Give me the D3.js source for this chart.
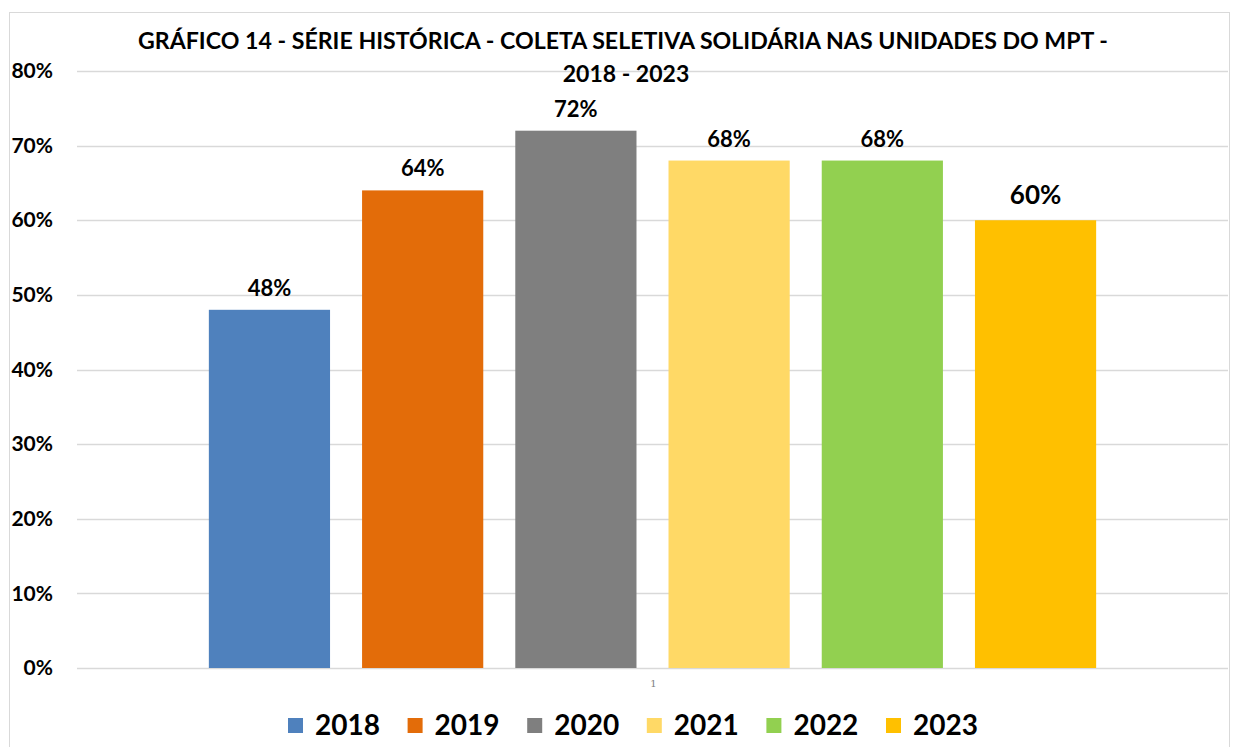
<!DOCTYPE html>
<html>
<head>
<meta charset="utf-8">
<script src="https://cdn.jsdelivr.net/npm/d3@7"></script>
<style>
  body { margin: 0; background: #fff; }
  svg text { font-family: Lato, "Open Sans", sans-serif; font-weight: bold; fill: #000; }
</style>
</head>
<body>
<script>
var categories = ['1'];
var years = ['2018', '2019', '2020', '2021', '2022', '2023'];
var values = [48, 64, 72, 68, 68, 60];
var colors = ['#4f81bd', '#e36c09', '#7f7f7f', '#ffd966', '#92d050', '#ffc000'];
var yTicks = [0, 10, 20, 30, 40, 50, 60, 70, 80];
var titleLines = [
  'GRÁFICO 14 - SÉRIE HISTÓRICA - COLETA SELETIVA SOLIDÁRIA NAS UNIDADES DO MPT -',
  '2018 - 2023'
];

var width = 1236, height = 747;
var plot = { left: 77, right: 1228, top: 71, bottom: 668 };

var svg = d3.select('body').append('svg')
    .attr('width', width)
    .attr('height', height);

// chart frame
svg.append('rect')
    .attr('x', 9.5).attr('y', 12.5)
    .attr('width', 1220).attr('height', 760)
    .attr('fill', 'none')
    .attr('stroke', '#d9d9d9');

var y = d3.scaleLinear().domain([0, 80]).range([plot.bottom, plot.top]);

var x0 = d3.scaleBand()
    .domain(categories)
    .range([plot.left, plot.right])
    .paddingInner(0)
    .paddingOuter(0.126);

var x1 = d3.scaleBand()
    .domain(years)
    .range([0, x0.bandwidth()])
    .paddingInner(0.209)
    .paddingOuter(0.1045);

// gridlines
svg.append('g')
    .selectAll('line')
    .data(yTicks)
    .enter()
    .append('line')
    .attr('x1', plot.left)
    .attr('x2', plot.right)
    .attr('y1', function(d) { return Math.round(y(d)) + 0.5; })
    .attr('y2', function(d) { return Math.round(y(d)) + 0.5; })
    .attr('stroke', '#d9d9d9')
    .attr('stroke-width', 1.5);

// y axis labels
var yAxis = d3.axisLeft(y)
    .tickValues(yTicks)
    .tickSize(0)
    .tickPadding(0)
    .tickFormat(function(d) { return d + '%'; });

var gy = svg.append('g')
    .attr('transform', 'translate(53,0)')
    .call(yAxis);
gy.select('.domain').remove();
gy.selectAll('text')
    .style('font-family', 'Lato, "Open Sans", sans-serif')
    .style('font-weight', 'bold')
    .style('font-size', '21px')
    .style('fill', '#000');

// category axis label
var gx = svg.append('g')
    .attr('transform', 'translate(0,' + plot.bottom + ')')
    .call(d3.axisBottom(x0).tickSize(0).tickPadding(12));
gx.select('.domain').remove();
gx.selectAll('text')
    .style('font-family', '"DejaVu Serif", serif')
    .style('font-weight', 'normal')
    .style('font-size', '10px')
    .style('fill', '#7f7f7f')
    .attr('dx', 1);

var data = years.map(function(yr, i) {
  return { cat: '1', year: yr, value: values[i], color: colors[i] };
});

// bars
svg.append('g')
    .selectAll('rect')
    .data(data)
    .enter()
    .append('rect')
    .attr('x', function(d) { return x0(d.cat) + x1(d.year); })
    .attr('y', function(d) { return y(d.value); })
    .attr('width', x1.bandwidth())
    .attr('height', function(d) { return y(0) - y(d.value); })
    .attr('fill', function(d) { return d.color; });

// value labels
svg.append('g')
    .selectAll('text')
    .data(data)
    .enter()
    .append('text')
    .attr('x', function(d) { return x0(d.cat) + x1(d.year) + x1.bandwidth() / 2; })
    .attr('y', function(d) { return y(d.value) - (d.year === '2023' ? 16 : 14); })
    .attr('text-anchor', 'middle')
    .attr('font-size', function(d) { return d.year === '2023' ? 26 : 22; })
    .text(function(d) { return d.value + '%'; });

// title
svg.append('text')
    .attr('x', 623)
    .attr('y', 49)
    .attr('text-anchor', 'middle')
    .attr('font-size', 23)
    .attr('textLength', 970)
    .attr('lengthAdjust', 'spacingAndGlyphs')
    .text(titleLines[0]);
svg.append('text')
    .attr('x', 626)
    .attr('y', 82)
    .attr('text-anchor', 'middle')
    .attr('font-size', 23)
    .text(titleLines[1]);

// legend
var legendStep = 119.6;
var legend = svg.append('g')
    .attr('transform', 'translate(288,718)');
var item = legend.selectAll('g')
    .data(data)
    .enter()
    .append('g')
    .attr('transform', function(d, i) { return 'translate(' + (i * legendStep) + ',0)'; });
item.append('rect')
    .attr('width', 15)
    .attr('height', 15)
    .attr('fill', function(d) { return d.color; });
item.append('text')
    .attr('x', 27)
    .attr('y', 17)
    .attr('font-size', 28)
    .text(function(d) { return d.year; });
</script>
</body>
</html>
